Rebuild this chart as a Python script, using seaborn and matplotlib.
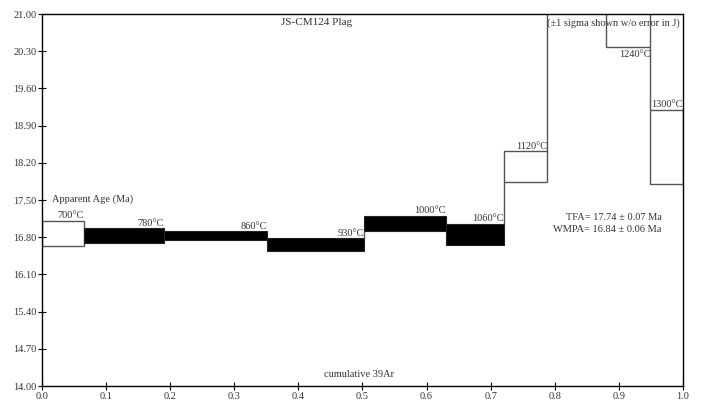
import matplotlib
matplotlib.use("Agg")
import matplotlib.pyplot as plt
import numpy as np
import seaborn as sns

# step data
temps = ["700°C", "780°C", "860°C", "930°C", "1000°C", "1060°C",
         "1120°C", "1180°C", "1240°C", "1300°C"]
cum_39ar = [0.0, 0.0655, 0.190, 0.351, 0.502, 0.630, 0.721, 0.788, 0.880, 0.949, 1.0]
ages = [16.87, 16.83, 16.83, 16.66, 17.06, 16.85, 18.13, 22.40, 20.80, 18.50]
errs = [0.235, 0.14, 0.085, 0.12, 0.14, 0.20, 0.29, 0.40, 0.42, 0.70]
plateau = [False, True, True, True, True, True, False, False, False, False]

y_ticks = [14.00, 14.70, 15.40, 16.10, 16.80, 17.50, 18.20, 18.90, 19.60, 20.30, 21.00]
x_ticks = [0.0, 0.1, 0.2, 0.3, 0.4, 0.5, 0.6, 0.7, 0.8, 0.9, 1.0]

sns.set_style("ticks")
plt.rcParams["font.family"] = ["Liberation Serif", "DejaVu Serif"]
plt.rcParams["font.size"] = 7.5

fig = plt.figure(figsize=(7.06, 4.05), dpi=100)
ax = fig.add_axes([0.0595, 0.0469, 0.9079, 0.9185])

left = np.array(cum_39ar[:-1])
width = np.diff(cum_39ar)
age = np.array(ages)
err = np.array(errs)
lo = age - err
hi = age + err
ymin, ymax = y_ticks[0], y_ticks[-1]

edge_open = "#555555"
for i in range(len(temps)):
    if plateau[i]:
        ax.bar(left[i], 2 * err[i], width=width[i], bottom=lo[i], align="edge",
               color="black", edgecolor="#222222", linewidth=0.8, zorder=2)
    else:
        ax.bar(left[i], 2 * err[i], width=width[i], bottom=lo[i], align="edge",
               color="none", edgecolor=edge_open, linewidth=1.0, zorder=2)

# connectors between neighbouring steps
for i in range(len(temps) - 1):
    xb = cum_39ar[i + 1]
    if hi[i] < lo[i + 1]:
        ax.vlines(xb, hi[i], lo[i + 1], color=edge_open, linewidth=1.0, zorder=2)
    elif lo[i] > hi[i + 1]:
        ax.vlines(xb, hi[i + 1], lo[i], color=edge_open, linewidth=1.0, zorder=2)

# temperature labels (steps lying wholly off the scale get none)
for i, t in enumerate(temps):
    xr = cum_39ar[i + 1]
    if lo[i] > ymax:
        continue
    if hi[i] > ymax:
        ax.text(xr, lo[i] - 0.05, t, ha="right", va="top", color="#333333",
                fontsize=7.5)
    else:
        ax.text(xr, hi[i] + 0.01, t, ha="right", va="bottom", color="#333333",
                fontsize=7.5)

ax.set_xlim(0, 1)
ax.set_ylim(ymin, ymax)
ax.set_xticks(x_ticks)
ax.set_yticks(y_ticks)
ax.set_xticklabels([f"{v:.1f}" for v in x_ticks])
ax.set_yticklabels([f"{v:.2f}" for v in y_ticks])
ax.tick_params(direction="inout", length=6, width=0.8, pad=1, labelsize=7.5,
               colors="black", labelcolor="#333333")

for s in ax.spines.values():
    s.set_visible(True)
    s.set_color("black")
    s.set_linewidth(1.0)

ax.text(0.016, 0.503, "Apparent Age (Ma)", transform=ax.transAxes,
        ha="left", va="center", color="#333333")
ax.text(0.428, 0.976, "JS-CM124 Plag", transform=ax.transAxes,
        ha="center", va="center", color="#333333", fontsize=8)
ax.text(0.995, 0.976, "(±1 sigma shown w/o error in J)", transform=ax.transAxes,
        ha="right", va="center", color="#333333")
ax.text(0.495, 0.03, "cumulative 39Ar", transform=ax.transAxes,
        ha="center", va="center", color="#333333")
ax.text(0.967, 0.454, "TFA= 17.74 ± 0.07 Ma", transform=ax.transAxes,
        ha="right", va="center", color="#333333")
ax.text(0.967, 0.422, "WMPA= 16.84 ± 0.06 Ma", transform=ax.transAxes,
        ha="right", va="center", color="#333333")

fig.savefig("out.png", dpi=100)
